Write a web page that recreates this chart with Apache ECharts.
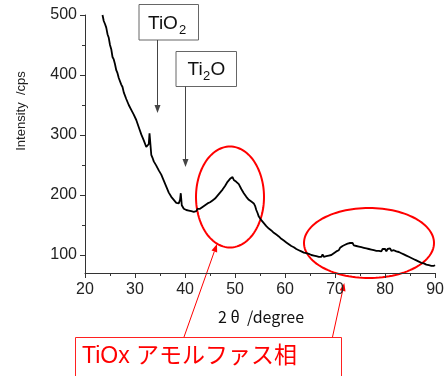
<!DOCTYPE html>
<html>
<head>
<meta charset="utf-8">
<script src="https://cdn.jsdelivr.net/npm/echarts@6/dist/echarts.min.js"></script>
<style>
html,body{margin:0;padding:0;background:#fff;}
#chart{width:447px;height:376px;}
</style>
</head>
<body>
<div id="chart"></div>
<script>
// ---- data ----
const xTicks = [20, 30, 40, 50, 60, 70, 80, 90];
const yTicks = [100, 200, 300, 400, 500];
const yMinorTicks = [150, 250, 350, 450];
const xAxisTitle = '2 θ  /degree';
const yAxisTitle = 'Intensity  /cps';
const amorphousLabel = 'TiOx アモルファス相';

// XRD scan: [2θ, intensity]
const scanPoints = [
[23.5,500],[23.75,490],[24,485],[24.25,479],[24.5,468],[24.75,462],[25,450],[25.25,443],[25.5,430],[25.75,426],
[26,418],[26.25,408],[26.5,403],[26.75,395],[27,397],[27.25,384],[27.5,380],[27.75,371],[28,368],[28.25,360],
[28.5,357],[28.75,350],[29,348],[29.25,342],[29.5,340],[29.75,334],[30,333],[30.25,325],[30.5,322],[30.75,313],
[31,310],[31.25,301],[31.5,298],[31.75,291],[32,288],[32.25,280],[32.5,279],[32.75,285],[32.9,303],[33.25,267],
[33.5,262],[33.75,256],[34,255],[34.25,249],[34.5,248],[34.75,241],[35,240],[35.25,234],[35.5,232],[35.75,224],
[36,222],[36.25,214],[36.5,212],[36.75,204],[37,202],[37.25,197],[37.5,198],[37.75,192],[38,193],[38.25,187],
[38.5,190],[38.75,186],[39,192],[39.15,203],[39.35,183],[39.5,182],[39.75,177],[40,179],[40.25,175],[40.5,177],[40.75,174],
[41,177],[41.25,173],[41.5,176],[41.75,172],[42,175],[42.25,173],[42.5,177],[42.75,174],[43,177],[43.25,176],
[43.5,180],[43.75,178],[44,183],[44.25,181],[44.5,186],[44.75,184],[45,188],[45.25,187],[45.5,191],[45.75,190],
[46,194],[46.25,195],[46.5,199],[46.75,200],[47,204],[47.25,205],[47.5,209],[47.75,211],[48,215],[48.25,217],
[48.5,222],[48.75,222],[49,227],[49.25,225],[49.5,230],[49.75,225],[50,228],[50.25,222],[50.5,224],[50.75,218],
[51,217],[51.25,210],[51.5,210],[51.75,203],[52,204],[52.25,197],[52.5,198],[52.75,192],[53,193],[53.25,189],
[53.5,192],[53.75,186],[54,182],[54.25,175],[54.5,170],[54.75,164],[55,163],[55.25,158],[55.5,158],[55.75,153],
[56,153],[56.25,148],[56.5,149],[56.75,144],[57,146],[57.25,141],[57.5,142],[57.75,137],[58,139],[58.25,134],
[58.5,136],[58.75,131],[59,132],[59.25,127],[59.5,129],[59.75,124],[60,126],[60.25,121],[60.5,123],[60.75,118],
[61,120],[61.25,115],[61.5,117],[61.75,113],[62,115],[62.25,110],[62.5,113],[62.75,108],[63,110],[63.25,106],
[63.5,108],[63.75,104],[64,107],[64.25,103],[64.5,106],[64.75,102],[65,104],[65.25,100],[65.5,103],[65.75,99],
[66,102],[66.25,98],[66.5,101],[66.75,97],[67,100],[67.25,97],[67.5,101],[67.75,97],[68,100],[68.25,98],
[68.5,101],[68.75,99],[69,102],[69.25,100],[69.5,103],[69.75,103],[70,106],[70.25,106],[70.5,109],[70.75,108],
[71,112],[71.25,111],[71.5,115],[71.75,113],[72,117],[72.25,115],[72.5,119],[72.75,116],[73,120],[73.25,117],
[73.5,120],[73.75,116],[74,119],[74.25,115],[74.5,118],[74.75,114],[75,117],[75.25,113],[75.5,116],[75.75,112],
[76,115],[76.25,111],[76.5,114],[76.75,110],[77,113],[77.25,109],[77.5,112],[77.75,108],[78,111],[78.25,107],
[78.5,110],[78.75,107],[79,110],[79.25,106],[79.5,110],[79.75,107],[80,110],[80.25,106],[80.5,110],[80.75,107],
[81,111],[81.25,107],[81.5,110],[81.75,108],[82,111],[82.25,106],[82.5,109],[82.75,105],[83,108],[83.25,103],
[83.5,106],[83.75,101],[84,104],[84.25,99],[84.5,102],[84.75,97],[85,100],[85.25,95],[85.5,97],[85.75,93],
[86,95],[86.25,91],[86.5,93],[86.75,89],[87,91],[87.25,87],[87.5,89],[87.75,86],[88,87],[88.25,84],
[88.5,86],[88.75,83],[89,85],[89.25,82],[89.5,84],[89.75,82],[90,83]
];

const chart = echarts.init(document.getElementById('chart'), null, {renderer: 'canvas'});
const FONT = '"Liberation Sans", Arial, sans-serif';

chart.setOption({
  animation: false,
  backgroundColor: '#fff',
  grid: {left: 85, right: 10, top: 15, bottom: 103},
  xAxis: {
    type: 'value', min: xTicks[0], max: xTicks[xTicks.length - 1], interval: 10,
    axisLine: {lineStyle: {color: '#333', width: 1}},
    axisTick: {length: 5, lineStyle: {color: '#333'}},
    minorTick: {show: true, splitNumber: 2, length: 3, lineStyle: {color: '#333'}},
    splitLine: {show: false},
    axisLabel: {fontSize: 16, color: '#222', fontFamily: FONT, margin: 9}
  },
  yAxis: [{
    type: 'value', min: 70, max: 500,
    axisLine: {show: true, lineStyle: {color: '#333', width: 1}},
    axisTick: {show: true, length: 5, customValues: yTicks, lineStyle: {color: '#333'}},
    axisLabel: {fontSize: 16, color: '#222', fontFamily: FONT, margin: 8, customValues: yTicks},
    splitLine: {show: false}
  }, {
    type: 'value', min: 70, max: 500, position: 'left',
    axisLine: {show: false},
    axisTick: {show: true, length: 3, customValues: yMinorTicks, lineStyle: {color: '#333'}},
    axisLabel: {show: false},
    splitLine: {show: false}
  }],
  series: [{
    type: 'line', data: scanPoints, showSymbol: false, symbol: 'none',
    lineStyle: {color: '#000', width: 1.8}, silent: true
  }]
});

function arrow(x1, y1, x2, y2, color, width, hl, hw) {
  const dx = x2 - x1, dy = y2 - y1, L = Math.sqrt(dx*dx + dy*dy);
  const ux = dx / L, uy = dy / L;
  const bx = x2 - ux * hl, by = y2 - uy * hl;
  return [
    {type: 'line', shape: {x1, y1, x2: bx, y2: by}, style: {stroke: color, lineWidth: width}, silent: true},
    {type: 'polygon', shape: {points: [[x2, y2], [bx - uy * hw / 2, by + ux * hw / 2], [bx + uy * hw / 2, by - ux * hw / 2]]},
     style: {fill: color}, silent: true}
  ];
}
function ellipse(cx, cy, rx, ry, color, w) {
  const pts = [];
  for (let i = 0; i < 120; i++) {
    const a = i / 120 * Math.PI * 2;
    pts.push([cx + rx * Math.cos(a), cy + ry * Math.sin(a)]);
  }
  return {type: 'polygon', shape: {points: pts}, style: {fill: null, stroke: color, lineWidth: w}, silent: true};
}
function txt(x, y, s, size, color, align) {
  return {type: 'text', x, y, silent: true,
    style: {text: s, font: size + 'px ' + FONT, fill: color, align: align || 'left', verticalAlign: 'middle'}};
}

const g = [];
// axis titles
g.push({type: 'text', x: 261, y: 317, silent: true,
  style: {text: xAxisTitle, font: '16px "Noto Sans CJK JP", sans-serif', fill: '#111', align: 'center', verticalAlign: 'middle'}});
g.push({type: 'text', x: 21.5, y: 111, rotation: Math.PI / 2, silent: true,
  style: {text: yAxisTitle, font: '13px ' + FONT, fill: '#222', align: 'center', verticalAlign: 'middle'}});

// phase label boxes + arrows
g.push({type: 'rect', shape: {x: 139, y: 4.5, width: 59.5, height: 35.5}, style: {fill: '#fff', stroke: '#666', lineWidth: 1}, silent: true});
g.push(txt(148, 23.5, 'TiO', 19, '#111'));
g.push(txt(179, 30, '2', 13, '#111'));
g.push(...arrow(157.5, 40, 157.5, 113, '#444', 1, 8, 6));
g.push({type: 'rect', shape: {x: 176, y: 51.5, width: 60.5, height: 35}, style: {fill: '#fff', stroke: '#666', lineWidth: 1}, silent: true});
g.push(txt(187.5, 69.5, 'Ti', 19, '#111'));
g.push(txt(203, 76, '2', 13, '#111'));
g.push(txt(210.5, 69.5, 'O', 19, '#111'));
g.push(...arrow(185.5, 86.5, 185.5, 167, '#444', 1, 8, 6));

// red annotations
g.push(ellipse(230, 197, 34, 50.5, '#ff0000', 2));
g.push(ellipse(369, 243, 65, 35, '#ff0000', 2));
g.push({type: 'rect', shape: {x: 75.5, y: 337.5, width: 266, height: 60}, style: {fill: '#fff', stroke: '#ff2020', lineWidth: 1}, silent: true});
g.push({type: 'text', x: 82, y: 357, silent: true,
  style: {text: amorphousLabel, font: '23px "Liberation Sans", "Noto Sans CJK JP", sans-serif', fill: '#ff0000', align: 'left', verticalAlign: 'middle'}});
g.push(...arrow(184, 337, 217, 244, '#ff0000', 1, 8, 6));
g.push(...arrow(332.5, 337, 344.3, 283, '#ff0000', 1, 8, 6));

chart.setOption({graphic: g});
</script>
</body>
</html>
